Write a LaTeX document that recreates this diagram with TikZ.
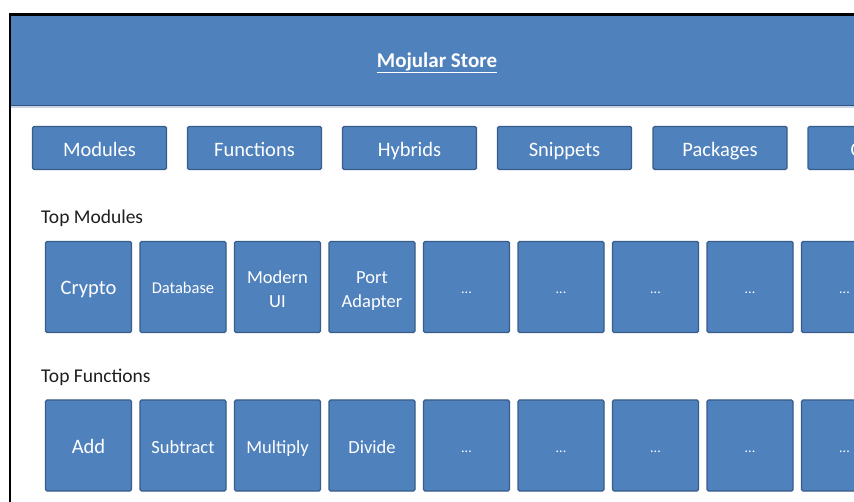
\documentclass[tikz,border=0pt]{standalone}
\usepackage{fontspec}
\setmainfont{Carlito}
\definecolor{boxfill}{HTML}{4F81BD}
\definecolor{boxline}{HTML}{385D8A}
\definecolor{shadowl}{HTML}{C9D6E8}
\newcommand{\twoline}[2]{\raisebox{-3.5pt}[\height][\depth]{\begin{tabular}{@{}c@{}}#1\\#2\end{tabular}}}
\begin{document}
\begin{tikzpicture}[x=1pt,y=-1pt,
  tile/.style={draw=boxline, line width=1.4pt, fill=boxfill, rounded corners=1.5pt,
    text=white, align=center, inner sep=0pt},
  tabbox/.style={tile, text height=18pt, text depth=0pt, minimum width=134pt, minimum height=43pt,
    font=\fontsize{20.5}{24}\selectfont},
  sqbox/.style={tile, minimum width=86pt, minimum height=91pt,
    font=\fontsize{18.5}{24}\selectfont},
  bigtxt/.style={text height=16pt, text depth=0pt, font=\fontsize{20.5}{24}\selectfont},
  midtxt/.style={text height=15pt, text depth=0pt},
  smalltxt/.style={text height=13pt, text depth=0pt, font=\fontsize{16.5}{20}\selectfont},
  dots/.style={text height=14pt, text depth=0pt, font=\fontsize{14}{16}\selectfont},
  heading/.style={anchor=west, inner sep=0pt, text=black!88,
    font=\fontsize{19.5}{22}\selectfont}]
\useasboundingbox (0,0) rectangle (854,502);
\clip (0,0) rectangle (854,502);
\fill[white] (0,0) rectangle (854,502);
% header band
\fill[boxfill] (10,15) rectangle (870,105);
\fill[shadowl] (10,106) rectangle (870,108.5);
\draw[boxline!90!black, line width=1.4pt] (10,105.3) -- (870,105.3);
% frame
\draw[black, line width=2.2pt] (9.6,520) -- (9.6,14.6) -- (870,14.6);
\node[text=white, font=\fontsize{21}{24}\selectfont\bfseries] (title) at (437,62.5)
  {\underline{Mojular Store}};
% tabs
\node[tabbox] (t1) at (99.5,148) {Modules};
\node[tabbox] (t2) at (254.5,148) {Functions};
\node[tabbox] (t3) at (409.5,148) {Hybrids};
\node[tabbox] (t4) at (564.5,148) {Snippets};
\node[tabbox] (t5) at (720,148) {Packages};
\node[tabbox] (t6) at (875,148) {};
\node[anchor=west, inner sep=0pt, text=white, text height=18pt, text depth=0pt,
  font=\fontsize{20.5}{24}\selectfont] (t6txt) at (850.5,148) {C};
% Top Modules
\node[heading] (hm) at (41,218) {Top Modules};
\node[sqbox, bigtxt] (m1) at (88.5,287) {Crypto};
\node[sqbox, smalltxt] (m2) at (183,287) {Database};
\node[sqbox] (m3) at (277.5,287) {\twoline{Modern}{UI}};
\node[sqbox] (m4) at (372,287) {\twoline{Port}{Adapter}};
\node[sqbox, dots] (m5) at (466.5,287) {...};
\node[sqbox, dots] (m6) at (561,287) {...};
\node[sqbox, dots] (m7) at (655.5,287) {...};
\node[sqbox, dots] (m8) at (750,287) {...};
\node[sqbox, dots] (m9) at (844.5,287) {...};
% Top Functions
\node[heading] (hf) at (41,377) {Top Functions};
\node[sqbox, bigtxt] (f1) at (88.5,445.5) {Add};
\node[sqbox, midtxt] (f2) at (183,445.5) {Subtract};
\node[sqbox, midtxt] (f3) at (277.5,445.5) {Multiply};
\node[sqbox, midtxt] (f4) at (372,445.5) {Divide};
\node[sqbox, dots] (f5) at (466.5,445.5) {...};
\node[sqbox, dots] (f6) at (561,445.5) {...};
\node[sqbox, dots] (f7) at (655.5,445.5) {...};
\node[sqbox, dots] (f8) at (750,445.5) {...};
\node[sqbox, dots] (f9) at (844.5,445.5) {...};
\end{tikzpicture}
\end{document}
